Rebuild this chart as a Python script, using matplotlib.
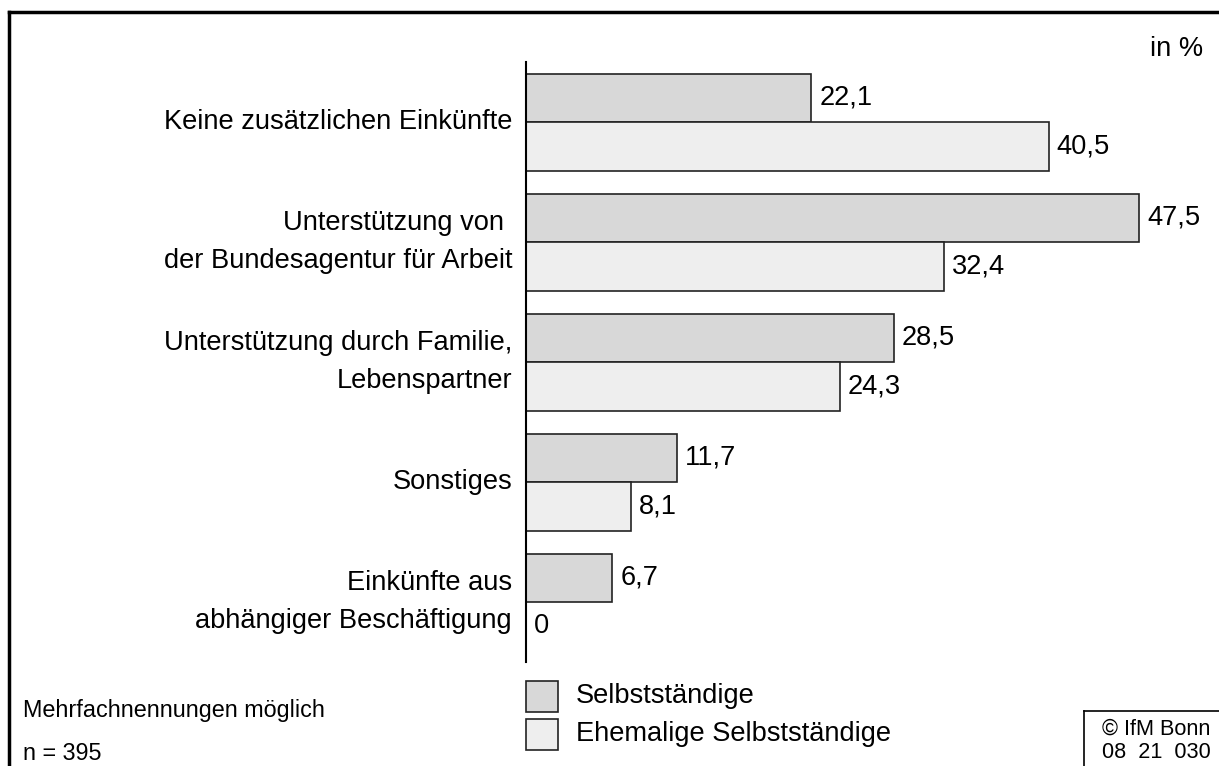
import matplotlib.pyplot as plt
import numpy as np

plt.rcParams['font.family'] = ['Liberation Sans', 'DejaVu Sans']

# Daten
kategorien = ["Keine zusätzlichen Einkünfte",
              "Unterstützung von \nder Bundesagentur für Arbeit",
              "Unterstützung durch Familie,\nLebenspartner",
              "Sonstiges",
              "Einkünfte aus\nabhängiger Beschäftigung"]
selbststaendige = [22.1, 47.5, 28.5, 11.7, 6.7]
ehemalige = [40.5, 32.4, 24.3, 8.1, 0.0]
serien = ["Selbstständige", "Ehemalige Selbstständige"]
farben = ["#d8d8d8", "#eeeeee"]

W, H = 1219, 766
fig = plt.figure(figsize=(W / 100, H / 100), dpi=100)

# Achse: linke Kante bei x=526 px, y von 62 bis 662 px
ax = fig.add_axes([526 / W, 1 - 662 / H, (W - 526) / W, 600 / H])
px_pro_einheit = 613 / 47.5
ax.set_xlim(0, (W - 526) / px_pro_einheit)
ax.set_ylim(len(kategorien) - 0.5, -0.5)

y = np.arange(len(kategorien))
h = 48.5 / 120
ax.barh(y - h / 2, selbststaendige, height=h, color=farben[0], edgecolor="#222222", linewidth=1.2)
ax.barh(y + h / 2, ehemalige, height=h, color=farben[1], edgecolor="#222222", linewidth=1.2)

fs = 19.6
off = 8 / px_pro_einheit
for i in range(len(kategorien)):
    ax.text(selbststaendige[i] + off, y[i] - h / 2, f"{selbststaendige[i]:.1f}".replace(".", ","),
            va="center", ha="left", fontsize=fs)
    txt = "0" if ehemalige[i] == 0 else f"{ehemalige[i]:.1f}".replace(".", ",")
    ax.text(ehemalige[i] + off, y[i] + h / 2, txt, va="center", ha="left", fontsize=fs)
    ax.text(-14 / px_pro_einheit, y[i], kategorien[i], ha="right", va="center",
            fontsize=fs, linespacing=1.6)

for s in ["top", "right", "bottom"]:
    ax.spines[s].set_visible(False)
ax.spines["left"].set_linewidth(1.5)
ax.set_xticks([])
ax.set_yticks([])

# Rahmen oben und links
fig.add_artist(plt.Line2D([9 / W, 9 / W], [0, 1 - 12 / H], color="black", lw=2.5))
fig.add_artist(plt.Line2D([9 / W, 1], [1 - 12 / H, 1 - 12 / H], color="black", lw=2.5))

fig.text(1203 / W, 1 - 49 / H, "in %", ha="right", va="center", fontsize=fs)

# Legende
for k, (name, farbe) in enumerate(zip(serien, farben)):
    yy = 681 + k * 38
    fig.add_artist(plt.Rectangle((526 / W, 1 - (yy + 31) / H), 32 / W, 31 / H,
                                 facecolor=farbe, edgecolor="#222222", lw=1.2))
    fig.text(576 / W, 1 - (yy + 15) / H, name, ha="left", va="center", fontsize=fs)

fig.text(23 / W, 1 - 711 / H, "Mehrfachnennungen möglich", ha="left", va="center", fontsize=16.8)
fig.text(23 / W, 1 - 753 / H, "n = 395", ha="left", va="center", fontsize=16.8)

# Copyright-Kasten
fig.add_artist(plt.Line2D([1084 / W, 1084 / W], [0, 1 - 711 / H], color="black", lw=1.2))
fig.add_artist(plt.Line2D([1084 / W, 1], [1 - 711 / H, 1 - 711 / H], color="black", lw=1.2))
fig.text(1156 / W, 1 - 729 / H, "© IfM Bonn", ha="center", va="center", fontsize=15.6)
fig.text(1156 / W, 1 - 753 / H, "08  21  030", ha="center", va="center", fontsize=15.6)

fig.savefig("out.png", dpi=100)
